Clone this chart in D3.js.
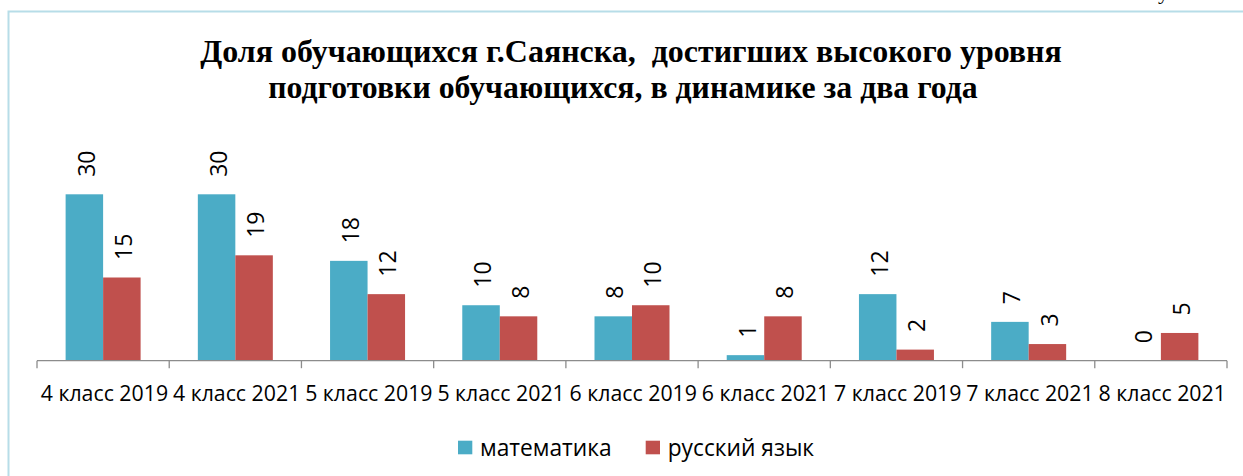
<!DOCTYPE html>
<html><head><meta charset="utf-8">
<script src="https://cdn.jsdelivr.net/npm/d3@7"></script>
<style>html,body{margin:0;padding:0;background:#fff;overflow:hidden}</style>
</head><body>
<svg id="chart" width="1243" height="476"></svg>
<script>
const categories = ["4 класс 2019","4 класс 2021","5 класс 2019","5 класс 2021","6 класс 2019","6 класс 2021","7 класс 2019","7 класс 2021","8 класс 2021"];
const seriesNames = ["математика","русский язык"];
const mathValues = [30,30,18,10,8,1,12,7,0];
const rusValues = [15,19,12,8,10,8,2,3,5];
const titleLines = ["Доля обучающихся г.Саянска,  достигших высокого уровня","подготовки обучающихся, в динамике за два года"];
const colors = ["#4BACC6","#C0504D"];

const svg = d3.select("#chart");
const sans = "'Open Sans', 'Noto Sans', sans-serif";

// fit a text element's font size to a target width
function fit(sel, target){
  const n = sel.node();
  const w = n.getComputedTextLength();
  const fs = parseFloat(sel.attr("font-size"));
  sel.attr("font-size", fs*target/w);
}

// chart border (top and left visible)
svg.append("path").attr("d","M8.5,476 V11.5 H1243").attr("fill","none").attr("stroke","#b7dde8").attr("stroke-width",2);
// fragment of document text above
svg.append("text").attr("x",1158).attr("y",-1).attr("font-family","'Liberation Serif', serif").attr("font-size",22).text("у");

// title
const titleCenters = [631, 623];
const titleWidths = [862, 710];
const titleY = [61.7, 98.3];
titleLines.forEach((t,i)=>{
  const tt = svg.append("text").attr("x",titleCenters[i]).attr("y",titleY[i]).attr("text-anchor","middle")
    .attr("font-family","'Liberation Serif','Times New Roman',serif").attr("font-weight","bold")
    .attr("font-size",28).attr("fill","#000").style("white-space","pre").text(t);
  fit(tt, titleWidths[i]);
});

const axisY = 360.7;
const x = d3.scaleBand().domain(categories).range([37,1227]).padding(0);
const xs = d3.scaleBand().domain(seriesNames).range([0,x.bandwidth()]).paddingInner(0).paddingOuter(0.763);
const y = d3.scaleLinear().domain([0,30]).range([axisY, axisY-166.4]);

const data = categories.map((c,i)=>({cat:c, vals:[mathValues[i], rusValues[i]]}));

const g = svg.append("g");
data.forEach(d=>{
  d.vals.forEach((v,j)=>{
    const bx = x(d.cat)+xs(seriesNames[j]);
    g.append("rect").attr("x",bx).attr("width",xs.bandwidth())
      .attr("y",y(v)).attr("height",axisY-y(v)).attr("fill",colors[j]);
    const lx = bx+xs.bandwidth()/2, ly = y(v)-17.5;
    g.append("text").attr("transform",`translate(${lx},${ly}) rotate(-90)`)
      .attr("dominant-baseline","central").attr("dy","0.05em")
      .attr("font-family",sans).attr("font-size",23).attr("fill","#000").text(v);
  });
});

// axis line and ticks
const ax = svg.append("g").attr("stroke","#8c8c8c").attr("stroke-width",1.3);
ax.append("line").attr("x1",37).attr("x2",1227).attr("y1",axisY).attr("y2",axisY);
const boundaries = categories.map(c=>x(c)).concat([x(categories[categories.length-1])+x.bandwidth()]);
boundaries.forEach(b=>{
  ax.append("line").attr("x1",b).attr("x2",b).attr("y1",axisY).attr("y2",axisY+7.5);
});

// category labels
categories.forEach((c,i)=>{
  const t = svg.append("text").attr("x",x(c)+x.bandwidth()/2+1.3).attr("y",400.7).attr("text-anchor","middle")
    .attr("font-family",sans).attr("font-size",21).attr("fill","#000").text(c);
  fit(t,127.5);
});

// legend
const legendX = [458, 645.7];
const legendTextW = [131.7, 146.5];
seriesNames.forEach((s,i)=>{
  svg.append("rect").attr("x",legendX[i]).attr("y",440.7).attr("width",14.3).attr("height",13.6).attr("fill",colors[i]);
  const t = svg.append("text").attr("x",legendX[i]+22).attr("y",456).attr("font-family",sans)
    .attr("font-size",22).attr("fill","#000").text(s);
  fit(t, legendTextW[i]);
});
</script>
</body></html>
